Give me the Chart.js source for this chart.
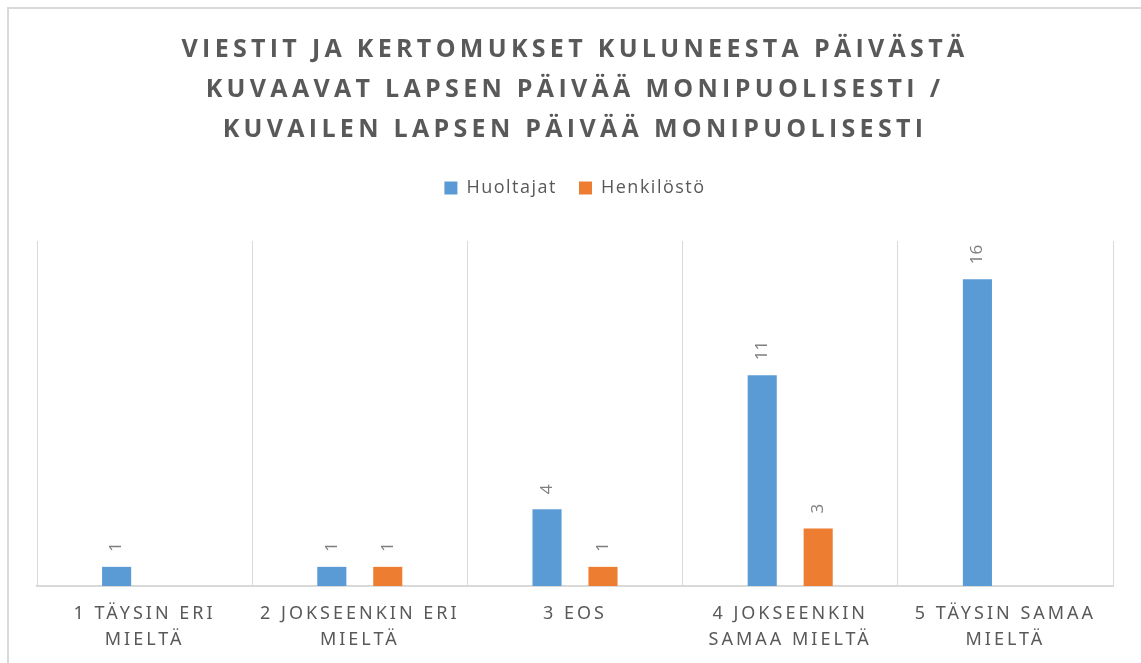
<!DOCTYPE html>
<html>
<head>
<meta charset="utf-8">
<script src="https://cdn.jsdelivr.net/npm/chart.js@4/dist/chart.umd.min.js"></script>
<style>
  html, body { margin: 0; padding: 0; background: #fff; overflow: hidden; }
  #frame { position: absolute; left: 7px; top: 7px; width: 1200px; height: 700px; border: 2px solid #d9d9d9; box-sizing: border-box; }
  #wrap { position: absolute; left: 0; top: 0; width: 1141px; height: 663px; }
</style>
</head>
<body>
<div id="frame"></div>
<div id="wrap"><canvas id="c" width="1141" height="663"></canvas></div>
<script>
const titleLines = [
  'VIESTIT JA KERTOMUKSET KULUNEESTA PÄIVÄSTÄ',
  'KUVAAVAT LAPSEN PÄIVÄÄ MONIPUOLISESTI /',
  'KUVAILEN LAPSEN PÄIVÄÄ MONIPUOLISESTI'
];
const categories = [
  ['1 TÄYSIN ERI', 'MIELTÄ'],
  ['2 JOKSEENKIN ERI', 'MIELTÄ'],
  ['3 EOS'],
  ['4 JOKSEENKIN', 'SAMAA MIELTÄ'],
  ['5 TÄYSIN SAMAA', 'MIELTÄ']
];
const seriesNames = ['Huoltajat', 'Henkilöstö'];
const huoltajat = [1, 1, 4, 11, 16];
const henkilosto = [null, 1, 1, 3, null];
const yMin = 0;
const yMax = 18;

const TEXT = '#595959';

function patchSpacing(obj, method, spacing, ctx) {
  if (!obj || obj['__sp_' + method]) return;
  const orig = obj[method];
  obj[method] = function (...args) {
    const prev = ctx.letterSpacing;
    ctx.letterSpacing = spacing;
    try { return orig.apply(this, args); }
    finally { ctx.letterSpacing = prev; }
  };
  obj['__sp_' + method] = true;
}

function patchLegendFit(legend, extra, ctx) {
  if (!legend || legend.__fitExtra) return;
  const orig = legend.fit;
  legend.fit = function (...args) {
    const prev = ctx.letterSpacing;
    ctx.letterSpacing = '1.5px';
    let r;
    try { r = orig.apply(this, args); }
    finally { ctx.letterSpacing = prev; }
    this.height += extra;
    return r;
  };
  legend.__fitExtra = true;
}

const spacingPlugin = {
  id: 'spacing',
  beforeUpdate(chart) {
    patchSpacing(chart.titleBlock, 'draw', '4.3px', chart.ctx);
    patchLegendFit(chart.legend, 34, chart.ctx);
    patchSpacing(chart.legend, 'draw', '1.5px', chart.ctx);
  },
  beforeDraw(chart) {
    patchSpacing(chart.scales.x, 'drawLabels', '3px', chart.ctx);
  }
};

const valueLabels = {
  id: 'valueLabels',
  afterDatasetsDraw(chart) {
    const ctx = chart.ctx;
    chart.data.datasets.forEach((ds, di) => {
      const meta = chart.getDatasetMeta(di);
      meta.data.forEach((bar, i) => {
        const v = ds.data[i];
        if (v === null || v === undefined) return;
        ctx.save();
        ctx.translate(bar.x, bar.y - 15);
        ctx.rotate(-Math.PI / 2);
        ctx.font = '17px "Open Sans"';
        ctx.fillStyle = '#7f7f7f';
        ctx.textAlign = 'left';
        ctx.textBaseline = 'middle';
        ctx.fillText(String(v), 0, 0);
        ctx.restore();
      });
    });
  }
};

new Chart(document.getElementById('c'), {
  type: 'bar',
  data: {
    labels: categories,
    datasets: [
      { label: seriesNames[0], data: huoltajat, backgroundColor: '#5b9bd5', categoryPercentage: 0.52, barPercentage: 0.52 },
      { label: seriesNames[1], data: henkilosto, backgroundColor: '#ed7d31', categoryPercentage: 0.52, barPercentage: 0.52 }
    ]
  },
  options: {
    responsive: false,
    animation: false,
    layout: { padding: { left: 37, right: 28, top: 10, bottom: -5 } },
    plugins: {
      title: {
        display: true,
        text: titleLines,
        color: TEXT,
        font: { family: '"Open Sans"', size: 25, weight: 'bold', lineHeight: '40px' },
        padding: { top: 20, bottom: 7 }
      },
      legend: {
        display: true,
        position: 'top',
        labels: {
          color: TEXT,
          font: { family: '"Open Sans"', size: 18 },
          boxWidth: 13,
          boxHeight: 13,
          padding: 22
        }
      },
      tooltip: { enabled: false }
    },
    scales: {
      x: {
        grid: { display: true, offset: true, color: '#d9d9d9', lineWidth: 1, drawTicks: false },
        border: { display: true, color: '#d9d9d9', width: 2 },
        ticks: {
          color: TEXT,
          font: { family: '"Noto Sans"', size: 18, lineHeight: '26px' },
          padding: 15,
          maxRotation: 0,
          minRotation: 0,
          autoSkip: false
        }
      },
      y: {
        display: false,
        min: yMin,
        max: yMax
      }
    }
  },
  plugins: [spacingPlugin, valueLabels]
});
</script>
</body>
</html>
